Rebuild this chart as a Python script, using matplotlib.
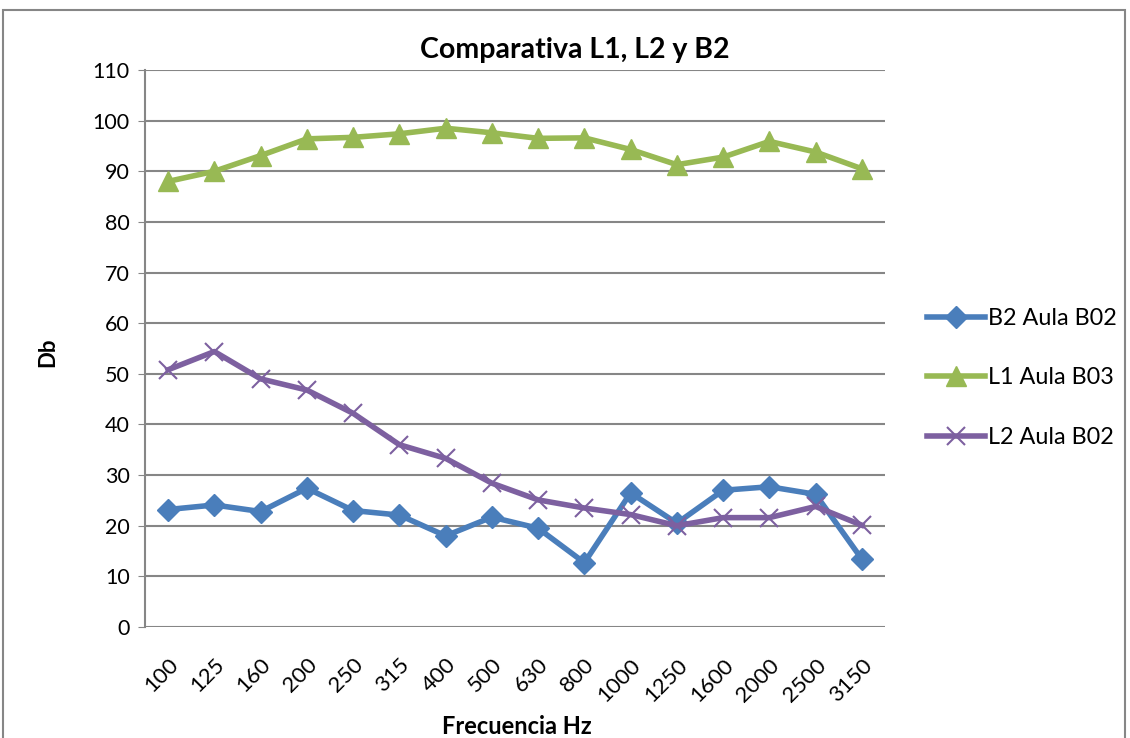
import matplotlib
matplotlib.use("Agg")
import matplotlib.pyplot as plt
from matplotlib.patches import Rectangle

freqs = ["100", "125", "160", "200", "250", "315", "400", "500", "630", "800",
         "1000", "1250", "1600", "2000", "2500", "3150"]
b2_aula_b02 = [23.2, 24.1, 22.8, 27.4, 23.0, 22.1, 18.0, 21.7, 19.5, 12.7,
               26.5, 20.5, 27.0, 27.7, 26.2, 13.4]
l1_aula_b03 = [88.0, 90.0, 93.1, 96.4, 96.7, 97.4, 98.5, 97.6, 96.5, 96.6,
               94.3, 91.3, 92.8, 95.9, 93.8, 90.5]
l2_aula_b02 = [50.8, 54.4, 49.0, 46.8, 42.2, 36.0, 33.3, 28.4, 25.1, 23.5,
               22.2, 20.0, 21.6, 21.6, 23.8, 20.1]
yticks = list(range(0, 111, 10))

plt.rcParams['font.family'] = ['Lato', 'DejaVu Sans']

fig = plt.figure(figsize=(11.3, 7.38), dpi=100)
fig.patches.append(Rectangle((3/1130, -0.05), 1122/1130, 1 - 10/738 + 0.05,
                             transform=fig.transFigure, fill=False,
                             edgecolor='#868686', linewidth=1.5))
ax = fig.add_axes([145/1130, 1 - 627/738, (885 - 145)/1130, (627 - 70)/738])

x = list(range(len(freqs)))
ax.plot(x, b2_aula_b02, color='#4a7ebb', linewidth=4, marker='D', markersize=11,
        label='B2 Aula B02')
ax.plot(x, l1_aula_b03, color='#98b954', linewidth=4, marker='^', markersize=14,
        label='L1 Aula B03')
ax.plot(x, l2_aula_b02, color='#7d60a0', linewidth=4, marker='x', markersize=13,
        markeredgewidth=1.5, label='L2 Aula B02')

ax.set_xlim(-0.5, len(freqs) - 0.5)
ax.set_ylim(0, 110)
ax.set_yticks(yticks)
ax.set_xticks(x)
ax.set_xticklabels(freqs, rotation=45, ha='right', rotation_mode='anchor', fontsize=16)
ax.tick_params(axis='y', labelsize=15.5, length=5, color='#868686', pad=6)
ax.tick_params(axis='x', length=0, pad=20)
ax.grid(axis='y', color='#868686', linewidth=1.5)
ax.set_axisbelow(True)
for s in ['top', 'right', 'bottom']:
    ax.spines[s].set_visible(False)
ax.spines['left'].set_color('#868686')
ax.spines['left'].set_linewidth(1.5)

fig.text(575/1130, 1 - 50/738, 'Comparativa L1, L2 y B2', fontsize=20.5,
         fontweight='bold', ha='center', va='center')
fig.text(48/1130, 1 - 352/738, 'Db', fontsize=16, fontweight='bold',
         rotation=90, ha='center', va='center')
fig.text(517/1130, 1 - 727/738, 'Frecuencia Hz', fontsize=17, fontweight='bold',
         ha='center', va='center')

ax.legend(loc='center left', bbox_to_anchor=(906/1130, 1 - 378/738),
          bbox_transform=fig.transFigure, frameon=False, fontsize=16.8,
          labelspacing=1.65, handlelength=2.5, handletextpad=0.1)

fig.savefig('out.png', dpi=100)
